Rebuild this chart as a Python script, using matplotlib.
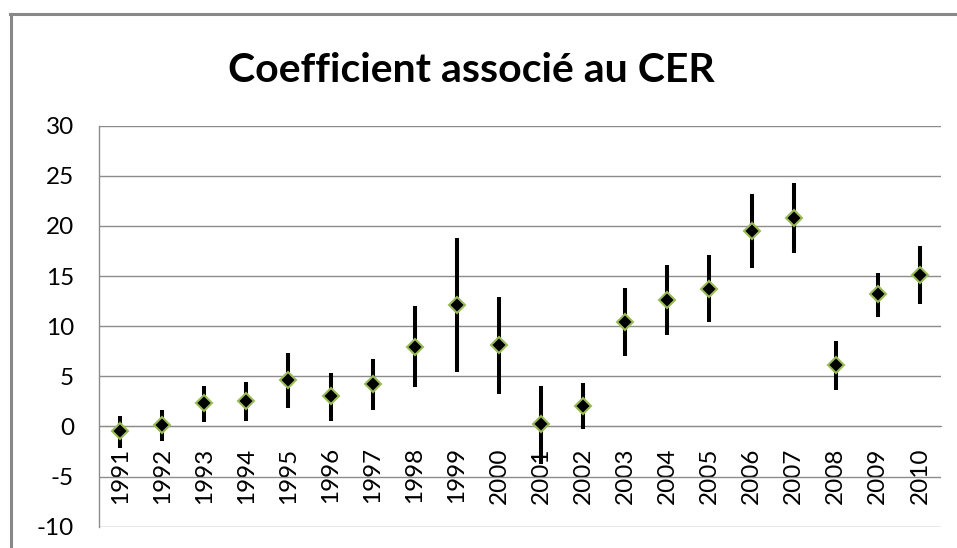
import matplotlib
matplotlib.use("Agg")
import numpy as np
from matplotlib import pyplot as plt
from matplotlib.lines import Line2D

years = ["1991", "1992", "1993", "1994", "1995", "1996", "1997", "1998", "1999", "2000",
         "2001", "2002", "2003", "2004", "2005", "2006", "2007", "2008", "2009", "2010"]
coef = [-0.5, 0.1, 2.3, 2.5, 4.6, 3.0, 4.2, 7.9, 12.1, 8.1,
        0.2, 2.0, 10.4, 12.6, 13.7, 19.5, 20.8, 6.1, 13.2, 15.1]
lower = [-2.1, -1.5, 0.4, 0.5, 1.8, 0.5, 1.6, 3.9, 5.4, 3.2,
         -3.7, -0.3, 7.0, 9.1, 10.4, 15.8, 17.3, 3.6, 10.9, 12.2]
upper = [1.0, 1.6, 4.0, 4.4, 7.3, 5.3, 6.7, 12.0, 18.8, 12.9,
         4.0, 4.3, 13.8, 16.1, 17.1, 23.2, 24.3, 8.5, 15.3, 18.0]
yticks = [-10, -5, 0, 5, 10, 15, 20, 25, 30]

plt.rcParams['font.family'] = ['Lato', 'DejaVu Sans']

fig = plt.figure(figsize=(9.57, 5.48), dpi=100)
ax = fig.add_axes([99 / 957, 21.3 / 548, 842 / 957, 401 / 548])

x = np.arange(len(years))
c = np.array(coef)
err = [c - np.array(lower), np.array(upper) - c]

ax.errorbar(x, c, yerr=err, fmt='none', ecolor='black', elinewidth=2.9, capsize=0, zorder=3)
ax.plot(x, c, linestyle='none', marker='D', markersize=8.3, markerfacecolor='black',
        markeredgecolor='#9bbb59', markeredgewidth=1.5, zorder=4)

grid_col = '#8c8c8c'
ax.set_ylim(-10, 30)
ax.set_xlim(-0.5, len(years) - 0.5)
ax.set_yticks(yticks)
ax.set_yticklabels([str(t) for t in yticks])
ax.yaxis.grid(True, color=grid_col, linewidth=1.0)
ax.set_axisbelow(True)

# horizontal axis crosses at 0, labels hang from there
ax.spines['bottom'].set_position(('data', 0))
ax.spines['bottom'].set_color(grid_col)
ax.spines['left'].set_color(grid_col)
ax.spines['left'].set_linewidth(1.0)
ax.spines['top'].set_visible(False)
ax.spines['right'].set_visible(False)
ax.set_xticks(x)
ax.set_xticklabels(years, rotation=90)
ax.tick_params(axis='x', length=0, pad=15, labelsize=17.5)
ax.tick_params(axis='y', length=0, pad=18, labelsize=17.5)

fig.text(471 / 957, 1 - 71 / 548, "Coefficient associé au CER", ha='center', va='center',
         fontsize=29.5, fontweight='bold')

# chart frame (only left and top edges are in view)
fig.add_artist(Line2D([10.5 / 957, 10.5 / 957], [0, 1 - 14 / 548], color='#888888', linewidth=2.2))
fig.add_artist(Line2D([9.5 / 957, 1], [1 - 14 / 548, 1 - 14 / 548], color='#888888', linewidth=2.2))

fig.savefig("out.png", dpi=100)
